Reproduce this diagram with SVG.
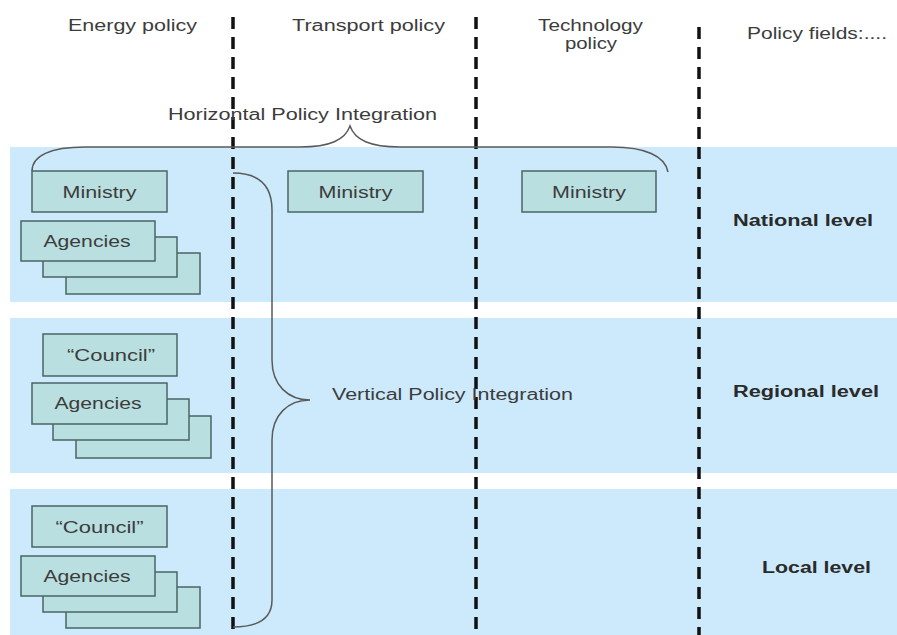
<svg xmlns="http://www.w3.org/2000/svg" width="897" height="635" viewBox="0 0 897 635">
<style>
.band{fill:#cceafc}
.box{fill:#b9dfe0;stroke:#4a6666;stroke-width:1.5}
.t{font-family:"Liberation Sans",Arial,sans-serif;font-size:16px;fill:#3c3c3c}
.lvl{font-family:"Liberation Sans",Arial,sans-serif;font-size:16px;font-weight:bold;fill:#2a2a2a}
.dash{stroke:#111;stroke-width:3.5;stroke-dasharray:12 8;fill:none}
.brace{fill:none;stroke:#5a5a5a;stroke-width:1.5}
</style>
<rect width="897" height="635" fill="#fff"/>
<g id="bands">
<rect class="band" x="10" y="147" width="887" height="155"/>
<rect class="band" x="10" y="318" width="887" height="155"/>
<rect class="band" x="10" y="489" width="887" height="146"/>
</g>
<g id="headers">
<text class="t" x="68" y="31" textLength="129" lengthAdjust="spacingAndGlyphs">Energy policy</text>
<text class="t" x="292" y="31" textLength="153" lengthAdjust="spacingAndGlyphs">Transport policy</text>
<text class="t" x="538" y="31" textLength="105" lengthAdjust="spacingAndGlyphs">Technology</text>
<text class="t" x="565" y="49" textLength="52" lengthAdjust="spacingAndGlyphs">policy</text>
<text class="t" x="747" y="39" textLength="140" lengthAdjust="spacingAndGlyphs">Policy fields:....</text>
</g>
<g id="levels">
<text class="lvl" x="733" y="226" textLength="140" lengthAdjust="spacingAndGlyphs">National level</text>
<text class="lvl" x="733" y="397" textLength="146" lengthAdjust="spacingAndGlyphs">Regional level</text>
<text class="lvl" x="762" y="573" textLength="109" lengthAdjust="spacingAndGlyphs">Local level</text>
</g>
<g id="national-energy">
<rect class="box" x="32" y="171" width="135" height="41"/>
<text class="t" x="99.5" y="198" text-anchor="middle" textLength="74" lengthAdjust="spacingAndGlyphs">Ministry</text>
<rect class="box" x="66" y="253" width="134" height="41"/>
<rect class="box" x="43" y="237" width="134" height="40"/>
<rect class="box" x="21" y="221" width="134" height="40"/>
<text class="t" x="87" y="247" text-anchor="middle" textLength="87" lengthAdjust="spacingAndGlyphs">Agencies</text>
</g>
<g id="national-transport">
<rect class="box" x="288" y="171" width="135" height="41"/>
<text class="t" x="355.5" y="198" text-anchor="middle" textLength="74" lengthAdjust="spacingAndGlyphs">Ministry</text>
</g>
<g id="national-technology">
<rect class="box" x="522" y="171" width="134" height="41"/>
<text class="t" x="589" y="198" text-anchor="middle" textLength="74" lengthAdjust="spacingAndGlyphs">Ministry</text>
</g>
<g id="regional-energy">
<rect class="box" x="43" y="334" width="134" height="42"/>
<text class="t" x="111" y="361" text-anchor="middle" textLength="88" lengthAdjust="spacingAndGlyphs">“Council”</text>
<rect class="box" x="76" y="416" width="135" height="42"/>
<rect class="box" x="53" y="399" width="136" height="41"/>
<rect class="box" x="32" y="383" width="135" height="41"/>
<text class="t" x="98" y="409" text-anchor="middle" textLength="87" lengthAdjust="spacingAndGlyphs">Agencies</text>
</g>
<g id="local-energy">
<rect class="box" x="32" y="506" width="135" height="41"/>
<text class="t" x="99.5" y="533" text-anchor="middle" textLength="88" lengthAdjust="spacingAndGlyphs">“Council”</text>
<rect class="box" x="66" y="587" width="134" height="41"/>
<rect class="box" x="43" y="572" width="134" height="40"/>
<rect class="box" x="21" y="556" width="134" height="40"/>
<text class="t" x="87" y="582" text-anchor="middle" textLength="87" lengthAdjust="spacingAndGlyphs">Agencies</text>
</g>
<g id="connectors">
<line class="dash" x1="233" y1="17" x2="233" y2="631"/>
<line class="dash" x1="476" y1="17" x2="476" y2="631"/>
<line class="dash" x1="699" y1="27" x2="699" y2="635"/>
<path class="brace" d="M32,171 C32,156 50,147 85,147 L300,147 C330,147 345,140 350,126 C355,140 370,147 400,147 L612,147 C645,147 665,156 668,172"/>
<path class="brace" d="M233,173 C258,173 272,185 272,210 L272,360 C272,385 288,400 310,400 C288,400 272,415 272,440 L272,600 C272,618 258,627 233,627"/>
</g>
<g id="integration-labels">
<text class="t" x="168" y="120" textLength="269" lengthAdjust="spacingAndGlyphs">Horizontal Policy Integration</text>
<text class="t" x="332" y="400" textLength="241" lengthAdjust="spacingAndGlyphs">Vertical Policy Integration</text>
</g>
</svg>
